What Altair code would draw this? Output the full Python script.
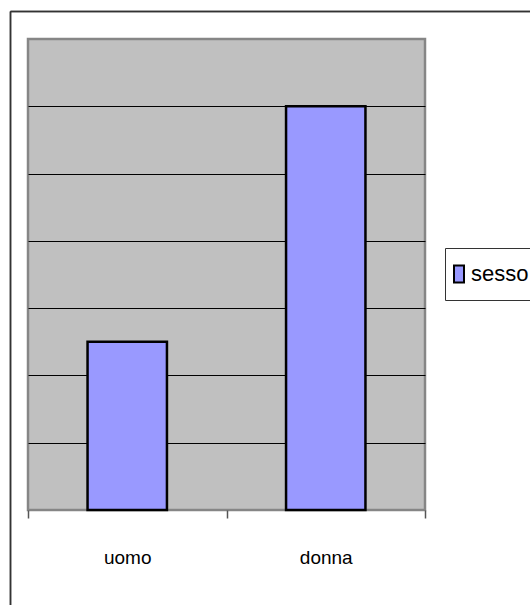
import altair as alt
import pandas as pd

# Values of the chart
categories = ["uomo", "donna"]
values = [2.5, 6]
series = ["sesso", "sesso"]
grid_levels = [1, 2, 3, 4, 5, 6]

df = pd.DataFrame({"categoria": categories, "valore": values, "serie": series})

FONT = "Liberation Sans, Arial, sans-serif"

bars = (
    alt.Chart(df)
    .mark_bar(width=alt.RelativeBandSize(0.4), stroke="#000000", strokeWidth=2.5)
    .encode(
        x=alt.X(
            "categoria:N",
            sort=categories,
            scale=alt.Scale(paddingInner=0, paddingOuter=0),
            axis=alt.Axis(
                title=None,
                labelAngle=0,
                labelFont=FONT,
                labelFontSize=19,
                labelColor="#000000",
                labelBaseline="alphabetic",
                labelPadding=45,
                tickBand="extent",
                tickSize=8,
                tickColor="#555555",
                tickWidth=1.5,
                domain=False,
                grid=False,
            ),
        ),
        y=alt.Y(
            "valore:Q",
            scale=alt.Scale(domain=[0, 7], nice=False),
            axis=alt.Axis(
                title=None,
                values=grid_levels,
                labels=False,
                ticks=False,
                domain=False,
                grid=True,
                gridColor="#000000",
                gridWidth=1,
                gridOpacity=1,
            ),
        ),
        color=alt.Color(
            "serie:N",
            scale=alt.Scale(range=["#9999FF"]),
            legend=alt.Legend(
                title=None,
                orient="none",
                legendX=417,
                legendY=209,
                padding=3,
                clipHeight=46,
                fillColor="#FFFFFF",
                strokeColor="#333333",
                symbolType="M-1,-1.7H1V1.7H-1Z",
                symbolSize=100,
                symbolStrokeColor="#000000",
                symbolStrokeWidth=2,
                symbolFillColor="#9999FF",
                labelFont=FONT,
                labelFontSize=22,
                labelColor="#000000",
                labelOffset=1,
            ),
        ),
    )
)

# Outer frame of the chart area (left and top edges)
frame_left = alt.Chart(df).mark_rule(color="#333333", strokeWidth=1.5, clip=False).encode(
    x=alt.value(-17.5), y=alt.value(-27.5), y2=alt.value(700)
)
frame_top = alt.Chart(df).mark_rule(color="#333333", strokeWidth=1.5, clip=False).encode(
    x=alt.value(-17.5), x2=alt.value(800), y=alt.value(-27.5)
)

chart = (
    alt.layer(bars, frame_left, frame_top)
    .properties(
        width=397,
        height=471,
        autosize=alt.AutoSizeParams(type="none"),
        padding={"left": 28, "top": 39, "right": 105, "bottom": 95},
        background="#FFFFFF",
    )
    .configure_view(fill="#C0C0C0", stroke="#868686", strokeWidth=2.5)
)

chart.save("out.html", embed_options={"renderer": "svg", "actions": False})
